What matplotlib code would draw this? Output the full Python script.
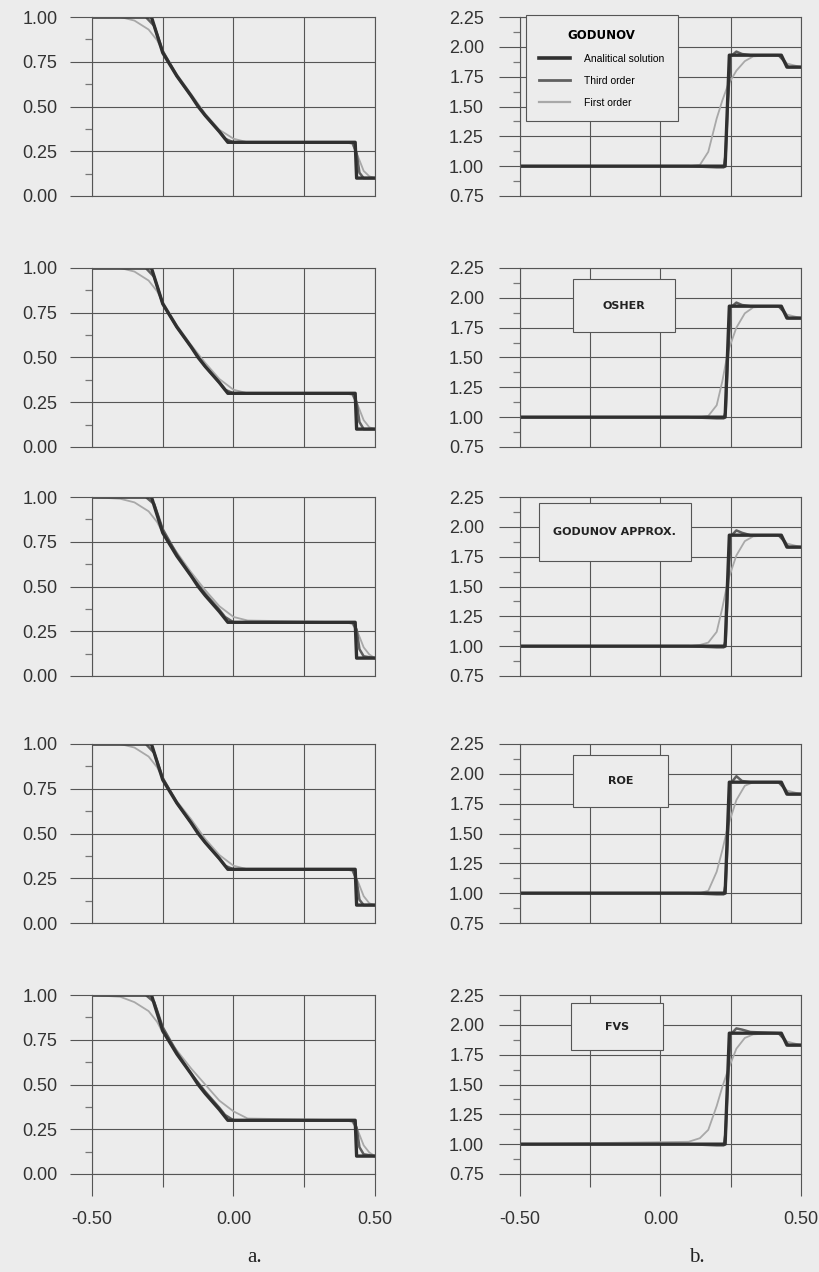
import numpy as np
import matplotlib
matplotlib.use('Agg')
import matplotlib.pyplot as plt
from matplotlib.lines import Line2D
from matplotlib.patches import Rectangle

plt.rcParams['font.family'] = ['Liberation Sans', 'DejaVu Sans']

schemes = ['GODUNOV', 'OSHER', 'GODUNOV APPROX.', 'ROE', 'FVS']

# left column (a.) - analytical solution, same for every row
xa_left = [-0.50, -0.29, -0.27, -0.25, -0.20, -0.15, -0.125, -0.10, -0.05, -0.02, 0.43, 0.435, 0.50]
ya_left = [1.00, 1.00, 0.90, 0.80, 0.67, 0.56, 0.50, 0.45, 0.36, 0.30, 0.30, 0.10, 0.10]

# left column - third order, one list per row
x3_left = [-0.50, -0.31, -0.28, -0.25, -0.20, -0.15, -0.10, -0.05, -0.03, 0.00, 0.42, 0.435, 0.445, 0.46, 0.50]
y3_left = [
    [1.00, 1.00, 0.95, 0.81, 0.67, 0.56, 0.45, 0.36, 0.32, 0.30, 0.30, 0.24, 0.13, 0.10, 0.10],
    [1.00, 1.00, 0.95, 0.80, 0.67, 0.56, 0.45, 0.36, 0.32, 0.30, 0.30, 0.25, 0.14, 0.10, 0.10],
    [1.00, 1.00, 0.96, 0.82, 0.68, 0.56, 0.46, 0.37, 0.33, 0.30, 0.30, 0.26, 0.15, 0.11, 0.10],
    [1.00, 1.00, 0.95, 0.81, 0.67, 0.56, 0.45, 0.36, 0.32, 0.30, 0.30, 0.24, 0.13, 0.10, 0.10],
    [1.00, 1.00, 0.96, 0.82, 0.68, 0.56, 0.46, 0.37, 0.33, 0.30, 0.30, 0.26, 0.15, 0.11, 0.10],
]

# left column - first order
x1_left = [-0.50, -0.40, -0.35, -0.30, -0.27, -0.25, -0.20, -0.15, -0.10, -0.05, 0.00, 0.05, 0.40, 0.42, 0.44, 0.46, 0.48, 0.50]
y1_left = [
    [1.00, 1.00, 0.98, 0.93, 0.87, 0.81, 0.68, 0.57, 0.46, 0.37, 0.32, 0.30, 0.30, 0.29, 0.22, 0.14, 0.11, 0.10],
    [1.00, 1.00, 0.98, 0.93, 0.87, 0.81, 0.68, 0.57, 0.47, 0.38, 0.32, 0.30, 0.30, 0.29, 0.23, 0.15, 0.11, 0.10],
    [1.00, 0.99, 0.97, 0.92, 0.86, 0.80, 0.69, 0.58, 0.48, 0.39, 0.33, 0.31, 0.30, 0.29, 0.24, 0.16, 0.12, 0.10],
    [1.00, 1.00, 0.98, 0.93, 0.87, 0.81, 0.68, 0.58, 0.47, 0.38, 0.32, 0.30, 0.30, 0.29, 0.23, 0.15, 0.11, 0.10],
    [1.00, 0.99, 0.96, 0.91, 0.85, 0.79, 0.69, 0.59, 0.50, 0.41, 0.35, 0.31, 0.30, 0.29, 0.24, 0.16, 0.12, 0.10],
]

# right column (b.) - analytical solution
xa_right = [-0.50, 0.23, 0.245, 0.43, 0.45, 0.50]
ya_right = [1.00, 1.00, 1.93, 1.93, 1.83, 1.83]

# right column - third order
x3_right = [-0.50, 0.10, 0.20, 0.225, 0.232, 0.24, 0.25, 0.27, 0.29, 0.32, 0.42, 0.44, 0.455, 0.50]
y3_right = [
    [1.00, 1.00, 0.99, 0.99, 1.10, 1.55, 1.92, 1.96, 1.94, 1.93, 1.93, 1.88, 1.83, 1.83],
    [1.00, 1.00, 0.99, 0.99, 1.05, 1.50, 1.92, 1.96, 1.94, 1.93, 1.93, 1.88, 1.83, 1.83],
    [1.00, 1.00, 0.99, 0.99, 1.05, 1.50, 1.92, 1.97, 1.95, 1.93, 1.93, 1.88, 1.83, 1.83],
    [1.00, 1.00, 0.99, 0.99, 1.08, 1.50, 1.92, 1.98, 1.94, 1.93, 1.93, 1.88, 1.83, 1.83],
    [1.00, 1.00, 0.99, 0.99, 1.10, 1.55, 1.92, 1.97, 1.96, 1.94, 1.93, 1.88, 1.83, 1.83],
]

# right column - first order
x1_right = [-0.50, 0.10, 0.14, 0.17, 0.20, 0.22, 0.24, 0.27, 0.30, 0.33, 0.40, 0.43, 0.45, 0.50]
y1_right = [
    [1.00, 1.00, 1.01, 1.12, 1.40, 1.55, 1.68, 1.80, 1.88, 1.92, 1.93, 1.92, 1.86, 1.83],
    [1.00, 1.00, 1.00, 1.01, 1.10, 1.30, 1.55, 1.75, 1.87, 1.92, 1.93, 1.92, 1.86, 1.83],
    [1.00, 1.00, 1.01, 1.03, 1.12, 1.32, 1.55, 1.76, 1.88, 1.92, 1.93, 1.92, 1.86, 1.83],
    [1.00, 1.00, 1.00, 1.02, 1.18, 1.36, 1.56, 1.78, 1.90, 1.93, 1.93, 1.92, 1.86, 1.83],
    [1.00, 1.02, 1.05, 1.12, 1.32, 1.48, 1.62, 1.80, 1.89, 1.92, 1.93, 1.92, 1.86, 1.83],
]

# label boxes (axes fraction: left, bottom, width, height)
boxes = [None,
         (0.19, 0.64, 0.36, 0.30),
         (0.067, 0.645, 0.54, 0.32),
         (0.187, 0.648, 0.34, 0.29),
         (0.18, 0.69, 0.33, 0.265)]

bg = '#ececec'
grid_c = '#555555'
W, H = 820, 1272
fig = plt.figure(figsize=(8.2, 12.72), dpi=100, facecolor=bg)

row_tops = [17, 268, 497, 744, 995]
row_h = 179
cols = [(92, 283), (520, 281)]


def style_axes(ax, ylo, yhi, bottom_row, tick_len, pad):
    ax.set_facecolor(bg)
    ax.set_xlim(-0.5, 0.5)
    ax.set_ylim(ylo, yhi)
    ax.set_xticks([-0.5, 0.0, 0.5])
    ax.set_xticks([-0.25, 0.25], minor=True)
    ax.set_yticks(np.arange(ylo, yhi + 0.01, 0.25))
    ax.set_yticks(np.arange(ylo + 0.125, yhi, 0.25), minor=True)
    ax.yaxis.set_major_formatter(plt.FormatStrFormatter('%.2f'))
    ax.grid(True, which='major', color=grid_c, lw=0.8)
    ax.grid(True, which='minor', axis='x', color=grid_c, lw=0.8)
    for s in ax.spines.values():
        s.set_color(grid_c)
        s.set_linewidth(0.8)
    ax.tick_params(axis='y', which='major', direction='out', length=tick_len, width=0.8,
                   color=grid_c, labelsize=13, labelcolor='#333333', pad=pad)
    ax.tick_params(axis='y', which='minor', direction='out', length=5, width=0.9, color='#777777')
    if bottom_row:
        ax.tick_params(axis='x', which='major', direction='out', length=16, width=0.8,
                       color=grid_c, labelsize=13, labelcolor='#333333', pad=11)
        ax.tick_params(axis='x', which='minor', direction='out', length=9, width=0.8, color=grid_c)
        ax.xaxis.set_major_formatter(plt.FormatStrFormatter('%.2f'))
    else:
        ax.tick_params(axis='x', which='both', length=0, labelbottom=False)


for i in range(5):
    top = row_tops[i]
    # left
    x0, w = cols[0]
    ax = fig.add_axes([x0 / W, 1 - (top + row_h) / H, w / W, row_h / H])
    style_axes(ax, 0.0, 1.0, i == 4, 16, 9)
    ax.plot(x1_left, y1_left[i], color='#a8a8a8', lw=1.3)
    ax.plot(x3_left, y3_left[i], color='#606060', lw=1.8)
    ax.plot(xa_left, ya_left, color='#303030', lw=2.4)

    # right
    x0, w = cols[1]
    ax = fig.add_axes([x0 / W, 1 - (top + row_h) / H, w / W, row_h / H])
    style_axes(ax, 0.75, 2.25, i == 4, 15, 11)
    ax.plot(x1_right, y1_right[i], color='#a8a8a8', lw=1.3)
    ax.plot(x3_right, y3_right[i], color='#606060', lw=1.8)
    ax.plot(xa_right, ya_right, color='#303030', lw=2.4)

    if i == 0:
        handles = [Line2D([], [], color='#303030', lw=2.6),
                   Line2D([], [], color='#606060', lw=2.0),
                   Line2D([], [], color='#a8a8a8', lw=1.6)]
        leg = ax.legend(handles, ['Analitical solution', 'Third order', 'First order'],
                        title='GODUNOV', loc='upper left', bbox_to_anchor=(0.02, 1.01),
                        fancybox=False, framealpha=1, facecolor=bg, edgecolor=grid_c,
                        fontsize=7.5, handlelength=3.0, handletextpad=1.3,
                        borderpad=1.3, labelspacing=1.15, borderaxespad=0)
        leg.get_title().set_fontweight('bold')
        leg.get_title().set_fontsize(8.5)
        leg.get_title().set_family('DejaVu Sans')
        leg.get_frame().set_linewidth(0.8)
    else:
        bx, by, bw, bh = boxes[i]
        ax.add_patch(Rectangle((bx, by), bw, bh, transform=ax.transAxes, facecolor=bg,
                               edgecolor=grid_c, lw=0.8, zorder=5))
        ax.text(bx + bw / 2, by + bh / 2, schemes[i], transform=ax.transAxes, ha='center',
                va='center', fontsize=8, fontweight='bold', family='DejaVu Sans',
                color='#222222', zorder=6)

fig.text(255 / W, 1 - 1258 / H, 'a.', ha='center', va='center', fontsize=15,
         family='Liberation Serif', color='#222222')
fig.text(697 / W, 1 - 1258 / H, 'b.', ha='center', va='center', fontsize=15,
         family='Liberation Serif', color='#222222')

fig.savefig('out.png', dpi=100, facecolor=bg)
